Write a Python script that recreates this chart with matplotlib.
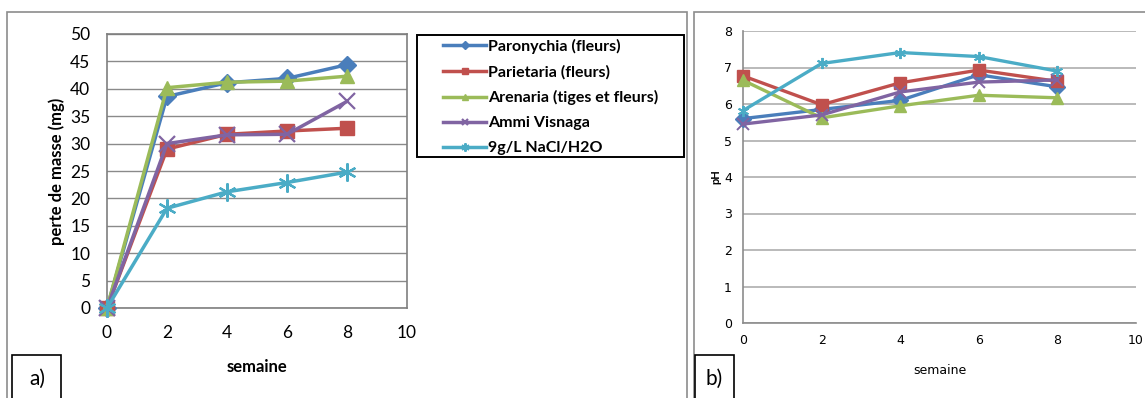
import matplotlib
matplotlib.use("Agg")
import matplotlib.pyplot as plt
from matplotlib.patches import Rectangle

# weeks of immersion
semaine = [0, 2, 4, 6, 8]

series_names = [
    "Paronychia (fleurs)",
    "Parietaria (fleurs)",
    "Arenaria (tiges et fleurs)",
    "Ammi Visnaga",
    "9g/L NaCl/H2O",
]

# a) mass loss (mg)
masse_paronychia = [0, 38.6, 41.1, 41.9, 44.4]
masse_parietaria = [0, 29.0, 31.7, 32.3, 32.8]
masse_arenaria = [0, 40.2, 41.2, 41.4, 42.3]
masse_ammi = [0, 30.0, 31.6, 31.7, 37.7]
masse_nacl = [0, 18.2, 21.2, 22.9, 24.8]

# b) pH of the medium
ph_paronychia = [5.6, 5.85, 6.1, 6.8, 6.47]
ph_parietaria = [6.77, 5.98, 6.58, 6.93, 6.62]
ph_arenaria = [6.65, 5.62, 5.95, 6.24, 6.17]
ph_ammi = [5.45, 5.7, 6.33, 6.6, 6.66]
ph_nacl = [5.82, 7.11, 7.41, 7.3, 6.9]

colors = ["#4A7EBB", "#C0504D", "#9BBB59", "#8064A2", "#4BACC6"]
# excel-style asterisk: six arms with one vertical
markers = ["D", "s", "^", "x", (6, 2, 0)]
narrow = ["Liberation Sans Narrow", "DejaVu Sans"]

W, H = 1145, 398
fig = plt.figure(figsize=(W / 100, H / 100), dpi=100)
plt.rcParams["font.family"] = ["Lato", "DejaVu Sans"]


def fx(px):
    return px / W


def fy(py):
    return 1 - py / H


def box(x0, y0, x1, y1, color, lw=1.2):
    # rectangle given in pixel corners (top-left origin)
    fig.patches.append(Rectangle((fx(x0), fy(y1)), fx(x1 - x0), fy(y0) - fy(y1),
                                 transform=fig.transFigure, fill=False,
                                 edgecolor=color, lw=lw))


# panel frames
box(7, 12, 687, 400, "#8c8c8c")
box(694, 12, 1154, 400, "#8c8c8c")
# panel tags
box(12, 355, 61, 400, "black")
box(695, 355, 734, 400, "black")
fig.text(fx(37), fy(379), "a)", fontsize=15, ha="center", va="center")
fig.text(fx(714), fy(379), "b)", fontsize=15, ha="center", va="center")

# ---- a) mass loss ----
ax1 = fig.add_axes([fx(107), fy(308), fx(300), fy(34) - fy(308)])
masse = [masse_paronychia, masse_parietaria, masse_arenaria, masse_ammi, masse_nacl]
msizes = [9, 10, 10, 11, 13]
handles = []
for vals, c, m, ms, name in zip(masse, colors, markers, msizes, series_names):
    (ln,) = ax1.plot(semaine, vals, color=c, lw=2.5, marker=m, ms=ms,
                     mew=1.6 if m in ("x", markers[-1]) else 1, mec=c, mfc=c,
                     label=name, clip_on=False, zorder=3)
    handles.append(ln)
ax1.set_xlim(0, 10)
ax1.set_ylim(0, 50)
ax1.set_xticks(range(0, 11, 2))
ax1.set_yticks(range(0, 51, 5))
ax1.yaxis.grid(True, color="#8a8a8a", lw=1)
ax1.set_axisbelow(True)
ax1.tick_params(length=0, labelsize=12.5, pad=12)
for s in ax1.spines.values():
    s.set_color("#7f7f7f")
    s.set_linewidth(1.2)
ax1.set_xlabel("semaine", fontsize=12, fontweight="bold", labelpad=13)
ax1.set_ylabel("perte de masse (mg)", fontsize=12, fontweight="bold", labelpad=4)

# legend box drawn separately so the entries sit inset like the sheet legend
box(417, 35, 684, 157, "black", lw=1.4)
leg = fig.legend(handles=handles, loc="upper left",
                 bbox_to_anchor=(fx(443), fy(39)), borderaxespad=0,
                 borderpad=0, markerscale=0.45, frameon=False,
                 prop={"size": 11.5, "weight": "bold"}, handlelength=2.7,
                 handletextpad=0.1, labelspacing=0.68)

# ---- b) pH ----
ax2 = fig.add_axes([fx(743), fy(323), fx(393), fy(31) - fy(323)])
ph = [ph_paronychia, ph_parietaria, ph_arenaria, ph_ammi, ph_nacl]
for vals, c, m in zip(ph, colors, markers):
    ax2.plot(semaine, vals, color=c, lw=2.4, marker=m, ms=8,
             mew=1.4 if m in ("x", markers[-1]) else 1, mec=c, mfc=c,
             clip_on=False, zorder=3)
ax2.set_xlim(0, 10)
ax2.set_ylim(0, 8)
ax2.set_xticks(range(0, 11, 2))
ax2.set_yticks(range(0, 9))
ax2.yaxis.grid(True, color="#b4b4b4", lw=1.3)
ax2.set_axisbelow(True)
ax2.tick_params(length=0, labelsize=9, pad=8)
for lab in ax2.get_xticklabels() + ax2.get_yticklabels():
    lab.set_family(narrow)
for side in ["top", "right"]:
    ax2.spines[side].set_visible(False)
for side in ["left", "bottom"]:
    ax2.spines[side].set_color("#8c8c8c")
    ax2.spines[side].set_linewidth(1.2)
ax2.set_xlabel("semaine", fontsize=9, labelpad=12, family=narrow)
ax2.set_ylabel("pH", fontsize=8, fontweight="bold", labelpad=2)

fig.savefig("out.png", dpi=100)
